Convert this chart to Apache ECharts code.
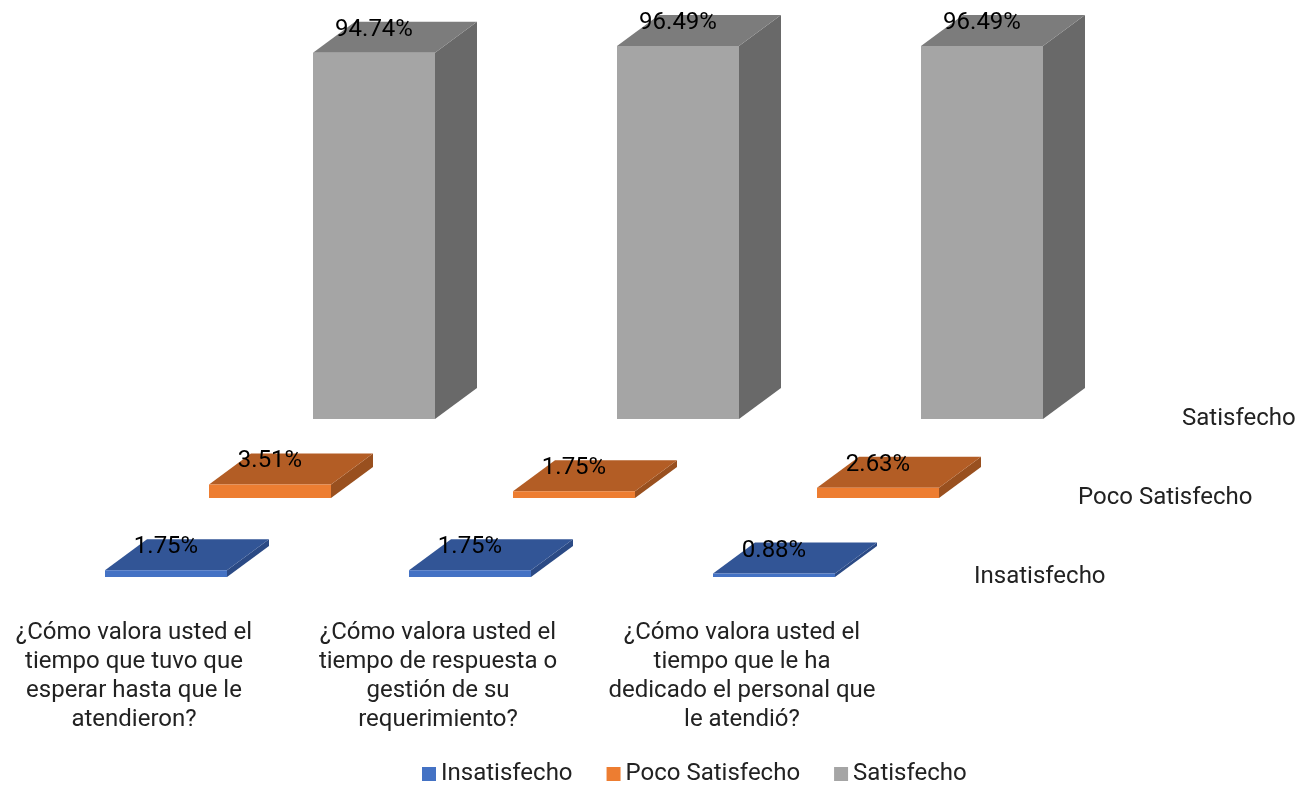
<!DOCTYPE html>
<html><head><meta charset="utf-8">
<style>html,body{margin:0;padding:0;background:#fff}#c{width:1301px;height:785px}</style>
<script src="https://cdn.jsdelivr.net/npm/echarts@6/dist/echarts.min.js"></script>
</head><body><div id="c"></div>
<script>
const categories = [
  '¿Cómo valora usted el\ntiempo que tuvo que\nesperar hasta que le\natendieron?',
  '¿Cómo valora usted el\ntiempo de respuesta o\ngestión de su\nrequerimiento?',
  '¿Cómo valora usted el\ntiempo que le ha\ndedicado el personal que\nle atendió?'
];
const seriesNames = ['Insatisfecho', 'Poco Satisfecho', 'Satisfecho'];
const insatisfecho = [1.75, 1.75, 0.88];
const pocoSatisfecho = [3.51, 1.75, 2.63];
const satisfecho = [94.74, 96.49, 96.49];
const values = [insatisfecho, pocoSatisfecho, satisfecho];

const frontColors = ['#4472C4', '#ED7D31', '#A5A5A5'];
const topColors = ['#325596', '#B35D25', '#7C7C7C'];
const sideColors = ['#2B4A85', '#99501F', '#696969'];
const gridLefts = [14, 118, 222];
const baselines = [577, 498, 419];
const plotHeight = 386.5, plotWidth = 912;
const barWidth = 122, depthX = 42, depthY = -31;
const FONT = 'Roboto';

function renderBar(params, api) {
  const i = params.seriesIndex;
  const v = api.value(1);
  const base = api.coord([api.value(0), 0]);
  const top = api.coord([api.value(0), v]);
  const l = base[0] - barWidth / 2, r = base[0] + barWidth / 2;
  const b = base[1], t = top[1];
  const poly = (pts, fill) => ({ type: 'polygon', shape: { points: pts }, style: { fill } });
  return {
    type: 'group',
    children: [
      poly([[r, b], [r + depthX, b + depthY], [r + depthX, t + depthY], [r, t]], sideColors[i]),
      poly([[l, t], [r, t], [r + depthX, t + depthY], [l + depthX, t + depthY]], topColors[i]),
      poly([[l, b], [r, b], [r, t], [l, t]], frontColors[i]),
      { type: 'text', z2: 10, style: {
          x: base[0], y: t - 23, text: v.toFixed(2) + '%',
          align: 'center', verticalAlign: 'middle',
          font: '24px ' + FONT, fill: '#000' } }
    ]
  };
}

const grids = gridLefts.map((left, i) => ({ left, width: plotWidth, top: baselines[i] - plotHeight, height: plotHeight, outerBoundsMode: 'none' }));
grids.push({ left: -18, width: plotWidth, top: baselines[0] - plotHeight, height: plotHeight, outerBoundsMode: 'none' });

const xAxes = seriesNames.map((name, i) => ({
  type: 'category', gridIndex: i, data: categories,
  axisLine: { show: false }, axisTick: { show: false }, axisLabel: { show: false },
  name, nameLocation: 'end', nameGap: 48,
  nameTextStyle: { fontFamily: FONT, fontSize: 24, color: '#222', padding: [0, 0, 53, 0] }
}));
xAxes.push({
  type: 'category', gridIndex: 3, data: categories,
  axisLine: { show: false }, axisTick: { show: false },
  axisLabel: { interval: 0, margin: 41, fontFamily: FONT, fontSize: 24, lineHeight: 29, color: '#222', align: 'center' }
});
const yAxes = grids.map((g, i) => ({ type: 'value', gridIndex: i, min: 0, max: 100, show: false }));

const chart = echarts.init(document.getElementById('c'), null, { renderer: 'canvas' });
chart.setOption({
  backgroundColor: '#fff',
  animation: false,
  grid: grids, xAxis: xAxes, yAxis: yAxes,
  legend: {
    data: seriesNames, left: 422, top: 762,
    padding: 0,
    itemWidth: 14, itemHeight: 14, itemGap: 34, icon: 'rect',
    textStyle: { fontFamily: FONT, fontSize: 24, color: '#222' }
  },
  series: seriesNames.map((name, i) => ({
    type: 'custom', name, xAxisIndex: i, yAxisIndex: i,
    coordinateSystem: 'cartesian2d',
    itemStyle: { color: frontColors[i] },
    encode: { x: 0, y: 1 },
    data: values[i].map((v, k) => [k, v]),
    renderItem: renderBar,
    clip: false
  }))
});
</script></body></html>
